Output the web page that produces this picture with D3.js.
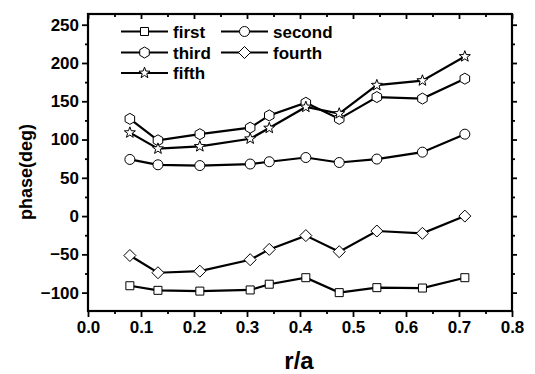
<!DOCTYPE html>
<head>
<meta charset="utf-8">
<script src="https://cdn.jsdelivr.net/npm/d3@7"></script>
<style>
body { margin: 0; background: #fff; }
text { font-family: "Liberation Sans", Arial, sans-serif; font-weight: bold; }
</style>
</head>
<body>
<script>

// data
var rA     = [0.079, 0.132, 0.211, 0.306, 0.342, 0.411, 0.474, 0.545, 0.631, 0.711];
var first  = [-91, -97, -98, -96.5, -89, -80.5, -100, -93.5, -94, -80.5];
var second = [74, 67, 66, 68, 71, 76.5, 70, 74.5, 83.5, 107];
var third  = [127, 99, 107, 115.5, 131.5, 148, 127, 155.5, 153.5, 179.5];
var fourth = [-51.5, -74, -72, -57, -43.5, -25.5, -46.5, -19.5, -22.5, 0];
var fifth  = [109, 88, 91, 101, 115, 142.5, 134, 171, 177, 208.5];

var seriesNames = ["first", "second", "third", "fourth", "fifth"];
var seriesVals  = [first, second, third, fourth, fifth];
var markers     = ["square", "circle", "hexagon", "diamond", "star"];

var xTicks = [0, 0.1, 0.2, 0.3, 0.4, 0.5, 0.6, 0.7, 0.8];
var yTicks = [-100, -50, 0, 50, 100, 150, 200, 250];

var width = 535, height = 374;
var margin = {top: 14, right: 23, bottom: 63, left: 88};

var svg = d3.select("body").append("svg")
    .attr("width", width)
    .attr("height", height);

var x = d3.scaleLinear().domain([0, 0.8]).range([margin.left, width - margin.right]);
var y = d3.scaleLinear().domain([-124, 264]).range([height - margin.bottom, margin.top]);

function markerPath(type) {
    if (type == "square") return "M-4,-4H4V4H-4Z";
    if (type == "circle") return "M-5,0A5,5 0 1,0 5,0A5,5 0 1,0 -5,0Z";
    if (type == "diamond") return "M0,-6L6,0L0,6L-6,0Z";
    if (type == "hexagon") {
        var p = d3.range(6).map(i => {
            var a = Math.PI / 3 * i - Math.PI / 2;
            return [5.5 * Math.cos(a), 5.5 * Math.sin(a)];
        });
        return "M" + p.join("L") + "Z";
    }
    // star
    var s = d3.range(10).map(i => {
        var a = Math.PI / 5 * i - Math.PI / 2;
        var r = i % 2 ? 2.4 : 5.8;
        return [r * Math.cos(a), r * Math.sin(a)];
    });
    return "M" + s.join("L") + "Z";
}

// axes: outward ticks on bottom/left, inward on top/right
var minorX = d3.range(0.05, 0.8, 0.1);
var minorY = d3.range(-125, 275, 50).filter(v => v > -124 && v < 264);

svg.append("g")
    .attr("transform", `translate(0,${y.range()[0]})`)
    .call(d3.axisBottom(x).tickValues(xTicks).tickFormat(d3.format(".1f")).tickSize(6).tickPadding(4))
    .call(g => g.selectAll("text").attr("font-size", 17).attr("fill", "#000"));
svg.append("g")
    .attr("transform", `translate(0,${y.range()[0]})`)
    .call(d3.axisBottom(x).tickValues(minorX).tickFormat("").tickSize(3))
    .call(g => g.select(".domain").remove());

svg.append("g")
    .attr("transform", `translate(${x.range()[0]},0)`)
    .call(d3.axisLeft(y).tickValues(yTicks).tickSize(6).tickPadding(3))
    .call(g => g.selectAll("text").attr("font-size", 17).attr("fill", "#000"));
svg.append("g")
    .attr("transform", `translate(${x.range()[0]},0)`)
    .call(d3.axisLeft(y).tickValues(minorY).tickFormat("").tickSize(3))
    .call(g => g.select(".domain").remove());

svg.append("g")
    .attr("transform", `translate(0,${y.range()[1]})`)
    .call(d3.axisBottom(x).tickValues(xTicks).tickFormat("").tickSize(5))
    .call(g => g.select(".domain").remove());
svg.append("g")
    .attr("transform", `translate(0,${y.range()[1]})`)
    .call(d3.axisBottom(x).tickValues(minorX).tickFormat("").tickSize(3))
    .call(g => g.select(".domain").remove());
svg.append("g")
    .attr("transform", `translate(${x.range()[1]},0)`)
    .call(d3.axisLeft(y).tickValues(yTicks).tickFormat("").tickSize(-5))
    .call(g => g.select(".domain").remove());
svg.append("g")
    .attr("transform", `translate(${x.range()[1]},0)`)
    .call(d3.axisLeft(y).tickValues(minorY).tickFormat("").tickSize(-3))
    .call(g => g.select(".domain").remove());

svg.selectAll(".tick line").attr("stroke", "#000").attr("stroke-width", 1.8);
svg.selectAll(".domain").remove();

// frame
svg.append("rect")
    .attr("x", x.range()[0])
    .attr("y", y.range()[1])
    .attr("width", x.range()[1] - x.range()[0])
    .attr("height", y.range()[0] - y.range()[1])
    .attr("fill", "none")
    .attr("stroke", "#000")
    .attr("stroke-width", 2.2);

// axis titles
svg.append("text")
    .attr("x", x(0.4) - 1)
    .attr("y", 369)
    .attr("text-anchor", "middle")
    .attr("font-size", 24)
    .text("r/a");

svg.append("text")
    .attr("transform", "translate(32,172) rotate(-90)")
    .attr("text-anchor", "middle")
    .attr("font-size", 18)
    .text("phase(deg)");

// series
var line = d3.line().x((d, i) => x(rA[i])).y(d => y(d));

seriesVals.forEach(function(vals, k) {
    svg.append("path")
        .datum(vals)
        .attr("d", line)
        .attr("fill", "none")
        .attr("stroke", "#000")
        .attr("stroke-width", 2.2);
    svg.selectAll(".m" + k)
        .data(vals)
        .enter().append("path")
        .attr("class", "m" + k)
        .attr("transform", (d, i) => `translate(${x(rA[i])},${y(d)})`)
        .attr("d", markerPath(markers[k]))
        .attr("fill", "#fff")
        .attr("stroke", "#000")
        .attr("stroke-width", 1);
});

// legend
var legPos = [[121, 31.5], [221, 31.5], [121, 52.5], [221, 52.5], [121, 73]];
seriesNames.forEach(function(name, k) {
    var lx = legPos[k][0], ly = legPos[k][1];
    var g = svg.append("g");
    g.append("line")
        .attr("x1", lx).attr("x2", lx + 47)
        .attr("y1", ly).attr("y2", ly)
        .attr("stroke", "#000").attr("stroke-width", 2.2);
    g.append("path")
        .attr("transform", `translate(${lx + 23.5},${ly})`)
        .attr("d", markerPath(markers[k]))
        .attr("fill", "#fff")
        .attr("stroke", "#000");
    g.append("text")
        .attr("x", lx + 52)
        .attr("y", ly + 6)
        .attr("font-size", 17)
        .text(name);
});

</script>
</body>
</html>
